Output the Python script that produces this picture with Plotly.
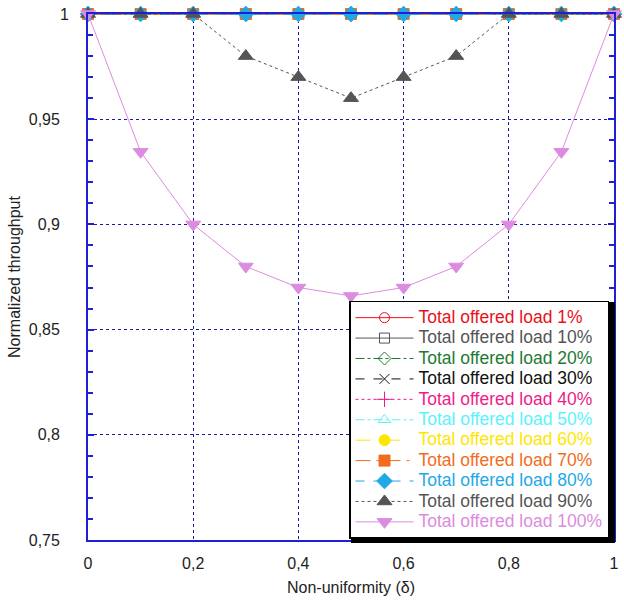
import plotly.graph_objects as go

delta = [0, 0.1, 0.2, 0.3, 0.4, 0.5, 0.6, 0.7, 0.8, 0.9, 1.0]
loads = ["1%", "10%", "20%", "30%", "40%", "50%", "60%", "70%", "80%", "90%", "100%"]
thr_1 = [1, 1, 1, 1, 1, 1, 1, 1, 1, 1, 1]
thr_10 = [1, 1, 1, 1, 1, 1, 1, 1, 1, 1, 1]
thr_20 = [1, 1, 1, 1, 1, 1, 1, 1, 1, 1, 1]
thr_30 = [1, 1, 1, 1, 1, 1, 1, 1, 1, 1, 1]
thr_40 = [1, 1, 1, 1, 1, 1, 1, 1, 1, 1, 1]
thr_50 = [1, 1, 1, 1, 1, 1, 1, 1, 1, 1, 1]
thr_60 = [1, 1, 1, 1, 1, 1, 1, 1, 1, 1, 1]
thr_70 = [1, 1, 1, 1, 1, 1, 1, 1, 1, 1, 1]
thr_80 = [1, 1, 1, 1, 1, 1, 1, 1, 1, 1, 1]
thr_90 = [1, 1, 1, 0.98, 0.97, 0.96, 0.97, 0.98, 1, 1, 1]
thr_100 = [1, 0.9345, 0.9, 0.88, 0.87, 0.866, 0.87, 0.88, 0.9, 0.9345, 1]

x_tick_vals = [0, 0.2, 0.4, 0.6, 0.8, 1]
x_tick_text = ["0", "0,2", "0,4", "0,6", "0,8", "1"]
y_tick_vals = [0.75, 0.8, 0.85, 0.9, 0.95, 1]
y_tick_text = ["0,75&nbsp;&nbsp;", "0,8&nbsp;&nbsp;", "0,85&nbsp;&nbsp;",
               "0,9&nbsp;&nbsp;", "0,95&nbsp;&nbsp;", "1"]

series = [thr_1, thr_10, thr_20, thr_30, thr_40, thr_50, thr_60, thr_70, thr_80, thr_90, thr_100]
colors = ["#E8101A", "#555555", "#1E7A32", "#111111", "#EE1C8A", "#5CF2FF",
          "#FFE600", "#F26C1C", "#1FA9E6", "#555555", "#DC8CE0"]
symbols = ["circle-open", "square-open", "diamond-open", "x-thin-open", "cross-thin-open",
           "triangle-up-open", "circle", "square", "diamond", "triangle-up", "triangle-down"]
dashes = ["solid", "solid", "dashdot", "dash", "dot", "dashdot", "longdash", "longdashdot",
          "dash", "dot", "solid"]
sizes = [10, 10, 10, 10, 11, 11, 11, 11, 12, 13, 13]

fig = go.Figure()
for name, y, c, s, d, sz in zip(loads, series, colors, symbols, dashes, sizes):
    fig.add_trace(go.Scatter(
        x=delta, y=y, mode="lines+markers", cliponaxis=False,
        name=f"<span style='color:{c};font-size:17.5px'>Total offered load {name}</span>",
        line=dict(color=c, width=1, dash=d),
        marker=dict(symbol=s, size=sz, color=c, line=dict(color=c, width=1)),
    ))

# legend drop shadow
fig.add_shape(type="rect", xref="paper", yref="paper",
              x0=0.5, x1=1.0019, y0=-0.0057, y1=0.4525,
              fillcolor="black", line=dict(width=0), layer="above")

axis_blue = "#1f1fd6"
grid_col = "#1a1aa0"

fig.update_layout(
    width=624, height=603,
    margin=dict(l=88, r=10, t=14, b=63),
    paper_bgcolor="white", plot_bgcolor="white",
    font=dict(family="Liberation Sans, Arial, sans-serif", size=16, color="#222222"),
    showlegend=True,
    legend=dict(x=0.9905, xanchor="right", y=0.002, yanchor="bottom",
                bgcolor="white", bordercolor="black", borderwidth=1.5,
                font=dict(size=13.4), tracegroupgap=0, itemwidth=58),
    xaxis=dict(range=[0, 1], tickvals=x_tick_vals, ticktext=x_tick_text,
               showline=True, mirror=True, automargin=False,
               linecolor=axis_blue, linewidth=2, showgrid=True,
               gridcolor=grid_col, griddash="dot", gridwidth=1, zeroline=False,
               ticks="", ticklabelstandoff=8, tickfont=dict(size=16),
               title=dict(text="Non-uniformity (δ)", standoff=11, font=dict(size=16))),
    yaxis=dict(range=[0.75, 1], tickvals=y_tick_vals, ticktext=y_tick_text,
               showline=True, mirror="ticks", automargin=False,
               linecolor=axis_blue, linewidth=2, showgrid=True,
               gridcolor=grid_col, griddash="dot", gridwidth=1, zeroline=False,
               ticks="inside", ticklen=6, tickcolor=axis_blue, tickwidth=1.5,
               ticklabelstandoff=14, tickfont=dict(size=16),
               minor=dict(dtick=0.01, ticks="inside", ticklen=5, tickcolor=axis_blue,
                          tickwidth=1.5, showgrid=False),
               title=dict(text="Normalized throughput", standoff=4, font=dict(size=16))),
)

fig.write_html("out.html")
